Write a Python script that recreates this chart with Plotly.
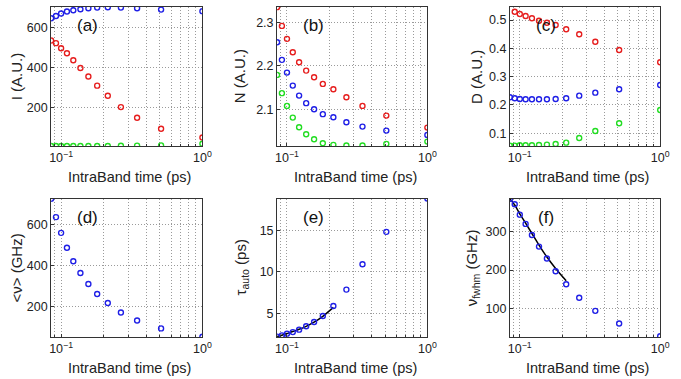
import plotly.graph_objects as go

# ---------------- data ----------------
intraband_time = [0.085, 0.092, 0.1, 0.11, 0.122, 0.137, 0.156, 0.18, 0.214, 0.265, 0.345, 0.51, 1.0]

I_blue = [648, 660, 672, 682, 689, 694, 699, 702, 704, 702, 699, 692, 684]
I_red = [536, 523, 497, 472, 437, 398, 355, 309, 258, 201, 147, 92, 48]
I_green = [5, 5, 5, 5, 5, 5, 5, 5, 5, 6, 7, 8, 16]

N_red = [2.3356, 2.2924, 2.2624, 2.2316, 2.2085, 2.1891, 2.1739, 2.1584, 2.1462, 2.1277, 2.1076, 2.0852, 2.0575]
N_blue = [2.2547, 2.2139, 2.1845, 2.1545, 2.1314, 2.1139, 2.1000, 2.0885, 2.0815, 2.0700, 2.0598, 2.0506, 2.0406]
N_green = [2.1792, 2.1370, 2.1076, 2.0806, 2.0584, 2.0423, 2.0307, 2.0215, 2.0176, 2.0160, 2.0160, 2.0199, 2.0252]

D_red = [0.560, 0.5293, 0.5212, 0.5141, 0.5060, 0.4975, 0.4905, 0.4824, 0.4672, 0.4495, 0.4234, 0.3941, 0.3507]
D_blue = [0.2272, 0.2236, 0.2212, 0.2201, 0.2201, 0.2201, 0.2201, 0.2212, 0.2236, 0.2328, 0.2434, 0.2554, 0.2706]
D_green = [0.0562, 0.0562, 0.0576, 0.0576, 0.0576, 0.0587, 0.0598, 0.0622, 0.0668, 0.0834, 0.1081, 0.1353, 0.1823]

nu_mean = [726, 636, 559, 486, 420, 363, 309, 260, 216, 170, 131, 92, 51]

tau_auto = [2.25, 2.40, 2.60, 2.79, 3.08, 3.48, 3.99, 4.71, 5.91, 7.88, 10.92, 14.8, 18.8]
tau_fit = [2.25, 2.42, 2.62, 2.85, 3.12, 3.48, 3.98, 4.68, 5.75]

nu_fwhm = [385, 371, 344, 320, 291, 261, 230, 197, 163, 128, 94, 61, 28]
nu_fit = [385, 369, 346, 322, 295, 265, 234, 204, 172]

x_major_ticks = [0.1, 1.0]
x_major_text = ["10<sup>−1</sup>", "10<sup>0</sup>"]
x_minor_ticks = [0.09, 0.2, 0.3, 0.4, 0.5, 0.6, 0.7, 0.8, 0.9]

RED = "#e61e1e"
BLUE = "#1f1fe6"
GREEN = "#22dd22"
FONT = "Liberation Sans"

W, H = 681, 379

# panel pixel boxes: (left, right, top, bottom)
boxes = {
    "a": (50, 204, 7, 146),
    "b": (280, 433, 7, 146),
    "c": (517, 670, 7, 146),
    "d": (50, 204, 198.5, 337),
    "e": (280, 433, 198.5, 337),
    "f": (517, 670, 198.5, 337),
}
names = ["a", "b", "c", "d", "e", "f"]

fig = go.Figure()


def ax_names(i):
    return ("x" if i == 1 else f"x{i}"), ("y" if i == 1 else f"y{i}")


def mk(x, y, color, i):
    xa, ya = ax_names(i)
    return go.Scatter(
        x=x, y=y, mode="markers", xaxis=xa, yaxis=ya,
        marker=dict(symbol="circle-open", size=5, color=color, line=dict(width=1.4, color=color)),
        showlegend=False, hoverinfo="skip",
    )


def line(x, y, i):
    xa, ya = ax_names(i)
    return go.Scatter(x=x, y=y, mode="lines", xaxis=xa, yaxis=ya,
                      line=dict(color="black", width=1.5, shape="spline"),
                      showlegend=False, hoverinfo="skip")


t = intraband_time
# (a)
fig.add_trace(mk(t, I_blue, BLUE, 1))
fig.add_trace(mk(t, I_red, RED, 1))
fig.add_trace(mk(t, I_green, GREEN, 1))
# (b)
fig.add_trace(mk(t, N_red, RED, 2))
fig.add_trace(mk(t, N_blue, BLUE, 2))
fig.add_trace(mk(t, N_green, GREEN, 2))
# (c)
fig.add_trace(mk(t, D_red, RED, 3))
fig.add_trace(mk(t, D_blue, BLUE, 3))
fig.add_trace(mk(t, D_green, GREEN, 3))
# (d)
fig.add_trace(mk(t, nu_mean, BLUE, 4))
# (e)
fig.add_trace(line(t[:9], tau_fit, 5))
fig.add_trace(mk(t, tau_auto, BLUE, 5))
# (f)
fig.add_trace(line(t[:9], nu_fit, 6))
fig.add_trace(mk(t, nu_fwhm, BLUE, 6))

yinfo = {
    "a": ([5, 705], [200, 400, 600], ["200", "400", "600"]),
    "b": ([2.015, 2.336], [2.1, 2.2, 2.3], ["2.1", "2.2", "2.3"]),
    "c": ([0.055, 0.546], [0.1, 0.2, 0.3, 0.4, 0.5], ["0.1", "0.2", "0.3", "0.4", "0.5"]),
    "d": ([50, 727], [200, 400, 600], ["200", "400", "600"]),
    "e": ([2.2, 18.8], [5, 10, 15], ["5", "10", "15"]),
    "f": ([26, 386], [100, 200, 300], ["100", "200", "300"]),
}

ytitles = {
    "a": "I (A.U.)",
    "b": "N (A.U.)",
    "c": "D (A.U.)",
    "d": "&lt;ν&gt; (GHz)",
    "e": "τ<sub>auto</sub> (ps)",
    "f": "ν<sub>fwhm</sub> (GHz)",
}
ytitle_x = {"a": 15, "b": 242, "c": 483, "d": 15, "e": 244, "f": 479}

GRID = dict(showgrid=True, gridcolor="#9a9a9a", griddash="1px,2px", gridwidth=1)
axis_common = dict(
    showline=True, mirror=True, linecolor="#333333", linewidth=1,
    ticks="inside", ticklen=3, tickcolor="#333333",
    zeroline=False, tickfont=dict(family=FONT, size=12.5, color="#222222"),
    **GRID,
)

layout = dict(
    width=W, height=H, margin=dict(l=0, r=0, t=0, b=0),
    paper_bgcolor="white", plot_bgcolor="white",
    showlegend=False, annotations=[],
)

for i, n in enumerate(names, start=1):
    l, r, tp, bt = boxes[n]
    xkey = "xaxis" if i == 1 else f"xaxis{i}"
    ykey = "yaxis" if i == 1 else f"yaxis{i}"
    xa, ya = ax_names(i)
    layout[xkey] = dict(
        axis_common, type="log", range=[-1.0706, 0.0],
        domain=[l / W, r / W], anchor=ya,
        tickvals=x_major_ticks, ticktext=x_major_text,
        minor=dict(tickvals=x_minor_ticks, ticks="inside", ticklen=2, tickcolor="#333333", **GRID),
    )
    rng, tv, tt = yinfo[n]
    layout[ykey] = dict(
        axis_common, range=rng, domain=[1 - bt / H, 1 - tp / H], anchor=xa,
        tickvals=tv, ticktext=tt,
    )
    # panel label
    layout["annotations"].append(dict(
        text=f"({n})", xref="paper", yref="paper",
        x=(l + 37) / W, y=1 - (tp + 19) / H, xanchor="center", yanchor="middle",
        showarrow=False, font=dict(family=FONT, size=17, color="#111111"),
    ))
    # x title
    layout["annotations"].append(dict(
        text="IntraBand time (ps)", xref="paper", yref="paper",
        x=((l + r) / 2 + 3) / W, y=1 - (bt + 31) / H, xanchor="center", yanchor="middle",
        showarrow=False, font=dict(family=FONT, size=14.5, color="#222222"),
    ))
    # y title
    layout["annotations"].append(dict(
        text=ytitles[n], xref="paper", yref="paper", textangle=-90,
        x=ytitle_x[n] / W, y=1 - ((tp + bt) / 2) / H, xanchor="center", yanchor="middle",
        showarrow=False, font=dict(family=FONT, size=15, color="#222222"),
    ))

fig.update_layout(**layout)
fig.write_html(
    "out.html",
    config={"displayModeBar": False},
    post_script="document.body.style.margin='0px'; document.body.style.padding='0px';",
)
